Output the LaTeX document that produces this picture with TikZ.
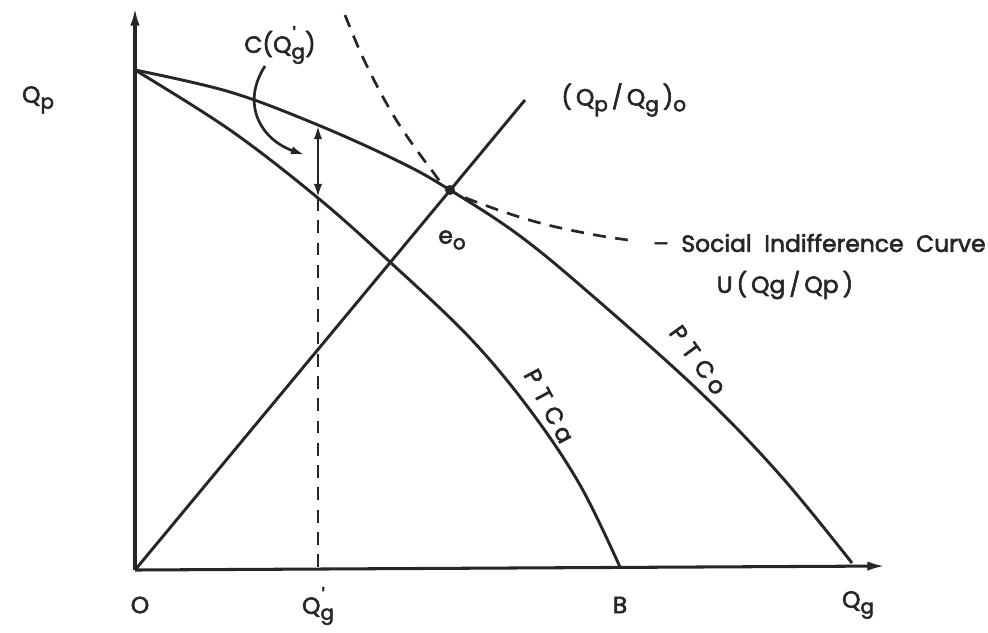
\documentclass[tikz,border=0pt]{standalone}
\usepackage{fontspec}
\setmainfont{Poppins}
\newfontfamily\labfont{Poppins}[FakeBold=2.5]
\usetikzlibrary{arrows.meta}
\newcommand\lsub[1]{\raisebox{-0.45ex}{\fontsize{17}{20}\selectfont #1}}
\newcommand\prsub[1]{\rlap{\raisebox{0.85ex}{\fontsize{17}{20}\selectfont\kern1pt'}}\raisebox{-0.45ex}{\fontsize{17}{20}\selectfont #1}}
\tikzset{
  curve/.style={line width=2.5pt, black!85},
  axis/.style={line width=2.6pt, black!85, -{Latex[length=15pt,width=8pt]}},
  dashline/.style={line width=2.3pt, black!85, dash pattern=on 11pt off 8pt},
  lab/.style={font=\labfont\fontsize{20}{24}\selectfont, text=black!85, inner sep=1pt}
}
\begin{document}
\begin{tikzpicture}[x=0.03cm,y=-0.03cm]
\useasboundingbox (0,0) rectangle (988,632);
\coordinate (O) at (135,570);
\coordinate (T) at (135,70);
\coordinate (Ytip) at (135,8);
\coordinate (Xtip) at (885,566);
\coordinate (E) at (450,190);
\coordinate (R) at (525,100);
\coordinate (Gtop) at (318,125);
\coordinate (Gbot) at (318,198);
\coordinate (Gax) at (318,570);
% axes
\draw[axis] (O) -- (Ytip);
\draw[axis] (O) -- (Xtip);
% outer PTC
\draw[curve] plot[smooth, tension=0.6] coordinates {(135,70) (230,92) (318,125) (400,162) (450,190) (520,236) (595,298) (700,392) (780,475) (852,563)};
% inner PTC
\draw[curve] plot[smooth, tension=0.6] coordinates {(135,70) (230,130) (318,198) (390,262) (470,338) (530,410) (580,485) (620,567)};
% ray
\draw[curve] (O) -- (R);
% indifference curve
\draw[dashline] plot[smooth, tension=0.6] coordinates {(345,15) (365,62) (395,118) (430,168) (450,190) (490,207) (540,223) (590,234) (628,240)};
% equilibrium dot
\fill[black!85] (E) circle (5);
% dashed vertical at Q'g
\draw[dashline] (Gbot) -- (Gax);
% double arrow
\draw[line width=2.3pt, black!85, {Latex[length=12pt,width=7pt]}-{Latex[length=12pt,width=7pt]}] (Gtop) -- (Gbot);
% curved arrow from label
\node[lab] (C) at (280,45) {C(Q\prsub{g})};
\draw[line width=2.3pt, black!85, -{Latex[length=12pt,width=7pt]}] (265,66) .. controls (240,105) and (262,140) .. (305,155);
% labels
\node[lab] (Qp) at (38,100) {Q\lsub{p}};
\node[lab, anchor=west] (ratio) at (560,100) {(\,Q\lsub{p}\,/\,Q\lsub{g}\,)\lsub{o}};
\node[lab] (eo) at (452,240) {e\lsub{o}};
\node[lab, anchor=east] (sic) at (987,243) {–\ \ Social\ \ Indifference\ \ Curve};
\node[lab] (U) at (785,285) {U\,(\,Qg\,/\,Qp\,)};
\node[lab, rotate=-54] (ptco) at (698,360) {P\,\,T\,\,C\,o};
\node[lab, rotate=-62] (ptca) at (549,406) {P\,\,T\,\,C\,a};
\node[lab] (Ol) at (140,605) {O};
\node[lab] (Ql) at (318,606) {Q\prsub{g}};
\node[lab] (Bl) at (620,605) {B};
\node[lab] (Qg) at (858,605) {Q\lsub{g}};
\end{tikzpicture}
\end{document}
